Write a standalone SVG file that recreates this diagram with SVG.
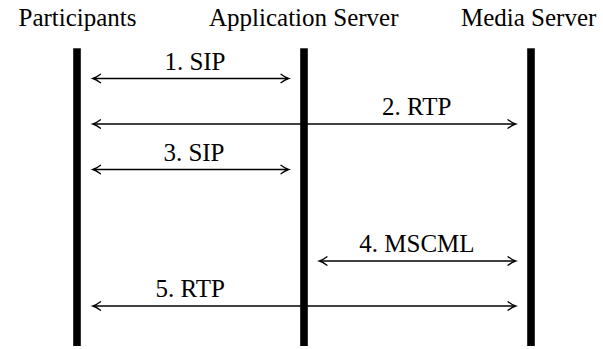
<svg xmlns="http://www.w3.org/2000/svg" width="603" height="349" viewBox="0 0 603 349">
<defs>
<marker id="tip" markerUnits="userSpaceOnUse" markerWidth="20" markerHeight="20" refX="0" refY="0" orient="auto-start-reverse" overflow="visible">
<path d="M -7 -4.2 Q -2.5 -0.8 0.5 0 Q -2.5 0.8 -7 4.2" fill="none" stroke="#000" stroke-width="1.3" stroke-linecap="round"/>
</marker>
</defs>
<rect width="603" height="349" fill="#fff"/>
<g id="participants">
<text x="18.5" y="26" font-family="Liberation Serif" font-size="25">Participants</text>
<rect x="73.2" y="48.3" width="7.6" height="297.7" fill="#000"/>
</g>
<g id="application-server">
<text x="209" y="26" font-family="Liberation Serif" font-size="25">Application Server</text>
<rect x="300.2" y="48.3" width="7.6" height="297.7" fill="#000"/>
</g>
<g id="media-server">
<text x="461" y="26" font-family="Liberation Serif" font-size="25">Media Server</text>
<rect x="527.2" y="48.3" width="7.6" height="297.7" fill="#000"/>
</g>
<g id="connectors" stroke="#000" stroke-width="1.6" fill="none" marker-start="url(#tip)" marker-end="url(#tip)">
<line x1="93.5" y1="78.5" x2="288" y2="78.5"/>
<line x1="93.5" y1="124" x2="515" y2="124"/>
<line x1="93.5" y1="169.5" x2="288" y2="169.5"/>
<line x1="320" y1="261" x2="515" y2="261"/>
<line x1="93.5" y1="306" x2="515" y2="306"/>
</g>
<g id="connector-labels">
<text x="164.4" y="70" font-family="Liberation Serif" font-size="25">1. SIP</text>
<text x="382" y="114.5" font-family="Liberation Serif" font-size="25">2. RTP</text>
<text x="163.4" y="160.5" font-family="Liberation Serif" font-size="25">3. SIP</text>
<text x="359.3" y="251.5" font-family="Liberation Serif" font-size="25">4. MSCML</text>
<text x="155.6" y="297" font-family="Liberation Serif" font-size="25">5. RTP</text>
</g>
</svg>
